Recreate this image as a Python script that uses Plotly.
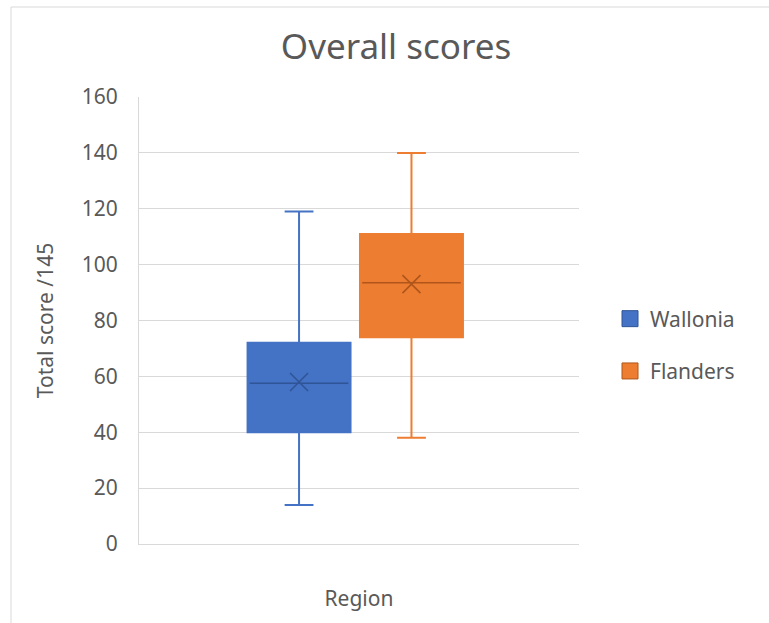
import plotly.graph_objects as go

# Summary statistics of the total score, per region
regions = ["Wallonia", "Flanders"]
category = ["Region"]
q1 = [40, 74]
median = [57.5, 93.5]
q3 = [72, 111]
lower_whisker = [14, 38]
upper_whisker = [119, 140]
mean = [58, 93]

fills = ["#4472C4", "#ED7D31"]
dark = ["#2F5597", "#B0561B"]
y_ticks = [0, 20, 40, 60, 80, 100, 120, 140, 160]

FONT = "Noto Sans"
GREY = "#595959"
W, H = 769, 623
L, R, T, B = 139, 190, 97, 79
PW, PH = W - L - R, H - T - B

# numeric x axis: one category at 0, two boxes side by side around it
box_w = 0.468
gap = 0.043
center = -0.017
offsets = [center + (i - (len(regions) - 1) / 2) * (box_w + gap) for i in range(len(regions))]

fig = go.Figure()
for i, name in enumerate(regions):
    x = offsets[i]
    fig.add_trace(go.Box(
        x=[x], q1=[q1[i]], median=[median[i]], q3=[q3[i]],
        lowerfence=[lower_whisker[i]], upperfence=[upper_whisker[i]],
        width=box_w, whiskerwidth=0.28,
        fillcolor=fills[i], line=dict(color=fills[i], width=2),
        boxpoints=False, showlegend=False, hoverinfo="skip",
    ))
    # darker median line
    fig.add_trace(go.Scatter(
        x=[x - box_w / 2 + 0.01, x + box_w / 2 - 0.01], y=[median[i], median[i]],
        mode="lines", line=dict(color=dark[i], width=1.5),
        showlegend=False, hoverinfo="skip",
    ))
    # mean marker
    fig.add_trace(go.Scatter(
        x=[x], y=[mean[i]], mode="markers",
        marker=dict(symbol="x-thin-open", size=18, color=dark[i],
                    line=dict(color=dark[i], width=1.6)),
        showlegend=False, hoverinfo="skip",
    ))
    # legend entry
    fig.add_trace(go.Scatter(
        x=[None], y=[None], mode="markers", name=name, legendgroup=name,
        marker=dict(symbol="square", size=22, color=fills[i],
                    line=dict(color=dark[i], width=1)),
    ))

fig.update_layout(
    width=W, height=H,
    margin=dict(l=L, r=R, t=T, b=B),
    paper_bgcolor="white", plot_bgcolor="white",
    font=dict(family=FONT, color=GREY, size=21),
    title=dict(text="Overall scores", x=396 / W, xanchor="center",
               y=1 - 47 / H, yanchor="middle",
               font=dict(size=35, color=GREY, family=FONT)),
    legend=dict(x=(610 - L) / PW, xanchor="left",
                y=(544 - 345) / PH, yanchor="middle", tracegroupgap=22,
                font=dict(size=21, color=GREY), itemwidth=30),
    showlegend=True,
)
fig.update_xaxes(
    range=[-1, 1], tickvals=[0], ticktext=category,
    showgrid=False, zeroline=False, showline=True, linecolor="#D9D9D9",
    linewidth=1, ticks="", ticklabelstandoff=36, fixedrange=True,
    tickfont=dict(size=21, color=GREY),
)
fig.update_yaxes(
    range=[0, 160], tickvals=y_ticks, showgrid=True, gridcolor="#D9D9D9",
    gridwidth=1.3, zeroline=False, showline=True, linecolor="#D9D9D9",
    ticks="", ticklabelstandoff=16, tickfont=dict(size=21, color=GREY),
    title=dict(text="Total score /145", font=dict(size=21, color=GREY), standoff=22),
)

# chart frame
fig.add_shape(type="rect", xref="paper", yref="paper",
              x0=(11 - L) / PW, x1=(W + 5 - L) / PW,
              y0=-(B + 5) / PH, y1=1 + (T - 7) / PH,
              line=dict(color="#D9D9D9", width=1), layer="below")

fig.write_html("out.html")
